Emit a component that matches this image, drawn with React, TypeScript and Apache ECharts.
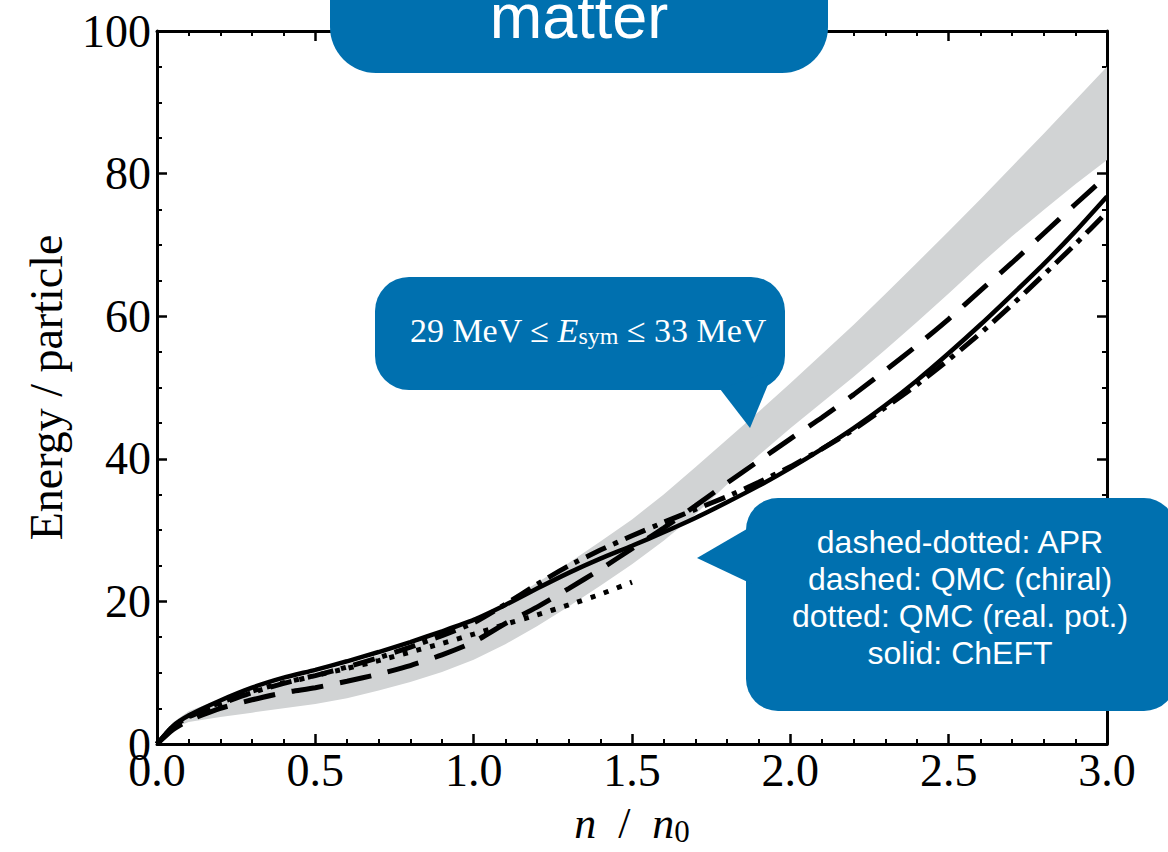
import { useEffect, useRef } from "react";
import * as echarts from "echarts";

// density n/n0 grid
const density = [0, 0.05, 0.1, 0.2, 0.3, 0.4, 0.5, 0.6, 0.7, 0.8, 0.9, 1.0, 1.1, 1.2, 1.3, 1.4, 1.5, 1.6, 1.7, 1.8, 1.9, 2.0, 2.1, 2.2, 2.3, 2.4, 2.5, 2.6, 2.7, 2.8, 2.9, 3.0];
const densityDotted = [0, 0.05, 0.1, 0.2, 0.3, 0.4, 0.5, 0.6, 0.7, 0.8, 0.9, 1.0, 1.1, 1.2, 1.3, 1.4, 1.5];

// symmetry-energy band (29 MeV <= Esym <= 33 MeV)
const bandLower = [0, 2.2, 3.1, 3.8, 4.4, 5.0, 5.6, 6.4, 7.5, 8.7, 10.1, 11.8, 14.0, 16.5, 19.3, 22.2, 25.2, 28.5, 32.2, 36.4, 40.5, 44.3, 47.9, 51.5, 55.3, 59.2, 63.2, 67.3, 71.2, 74.9, 78.5, 81.9];
const bandUpper = [0, 3.0, 4.6, 6.3, 7.7, 8.9, 10.0, 11.2, 12.5, 13.9, 15.5, 17.4, 19.8, 22.6, 25.4, 28.4, 31.5, 35.0, 38.8, 42.7, 46.6, 50.6, 54.7, 58.8, 63.1, 67.5, 71.9, 76.4, 81.0, 85.6, 90.3, 95.0];

// curves
const chEFT = [0, 2.5, 4.0, 6.1, 7.9, 9.3, 10.4, 11.6, 12.9, 14.3, 15.8, 17.4, 19.5, 21.8, 24.0, 26.0, 27.8, 29.7, 31.7, 33.9, 36.2, 38.7, 41.4, 44.3, 47.5, 51.0, 54.8, 58.8, 63.0, 67.3, 71.9, 76.8];
const apr = [0, 2.4, 3.8, 5.6, 7.2, 8.5, 9.6, 10.8, 12.1, 13.6, 15.2, 17.0, 19.6, 22.4, 25.0, 27.2, 29.2, 31.1, 32.9, 34.7, 36.7, 38.9, 41.4, 44.1, 47.2, 50.4, 53.9, 57.6, 61.6, 65.8, 70.1, 74.6];
const qmcChiral = [0, 2.0, 3.3, 5.0, 6.2, 7.2, 7.9, 8.8, 9.8, 11.0, 12.5, 14.3, 16.9, 19.2, 21.8, 24.5, 27.4, 30.3, 33.4, 36.6, 39.7, 42.8, 45.8, 49.0, 52.4, 55.9, 59.6, 63.6, 67.5, 71.6, 75.7, 79.7];
const qmcReal = [0, 2.4, 3.9, 5.8, 7.4, 8.6, 9.6, 10.6, 11.7, 12.9, 14.1, 15.4, 16.8, 18.1, 19.5, 21.0, 22.7];

const legendLines = ["dashed-dotted: APR", "dashed: QMC (chiral)", "dotted: QMC (real. pot.)", "solid: ChEFT"];

const BLUE = "#0070AF";
const SERIF = "'Liberation Serif', 'Times New Roman', serif";
const SANS = "'Liberation Sans', Arial, Helvetica, sans-serif";

function pairs(xs: number[], ys: number[]) {
  return ys.map((y, i) => [xs[i], y]);
}

function axisCommon(extra: any) {
  return {
    type: "value",
    axisLine: { show: true, onZero: false, lineStyle: { color: "#000", width: 3 } },
    axisTick: { show: true, inside: true, length: 10, lineStyle: { color: "#000", width: 2.5 } },
    splitLine: { show: false },
    minorSplitLine: { show: false },
    ...extra,
  };
}

export default function App() {
  const ref = useRef<HTMLDivElement>(null);
  useEffect(() => {
    const chart = echarts.init(ref.current!, null, { renderer: "svg" });
    const labelStyle = { color: "#000", fontFamily: SERIF, fontSize: 46 };
    const minorX = { show: true, splitNumber: 5, length: 5, lineStyle: { color: "#000", width: 2 } };
    const minorY = { show: true, splitNumber: 4, length: 5, lineStyle: { color: "#000", width: 2 } };
    const option: any = {
      animation: false,
      backgroundColor: "#fff",
      textStyle: { fontFamily: SERIF },
      grid: { left: 157, right: 61, top: 31, bottom: 108, containLabel: false },
      xAxis: [
        axisCommon({
          position: "bottom",
          min: 0,
          max: 3,
          interval: 0.5,
          minorTick: minorX,
          axisLabel: { ...labelStyle, margin: 3, formatter: (v: number) => v.toFixed(1) },
          name: "{i|n}{r|  /  }{i|n}{s|0}",
          nameLocation: "middle",
          nameGap: 56,
          nameTextStyle: {
            color: "#000",
            rich: {
              i: { fontFamily: SERIF, fontStyle: "italic", fontSize: 44, color: "#000" },
              r: { fontFamily: SERIF, fontSize: 44, color: "#000" },
              s: { fontFamily: SERIF, fontSize: 31, color: "#000", padding: [16, 0, 0, 0] },
            },
          },
        }),
        axisCommon({
          position: "top",
          min: 0,
          max: 3,
          interval: 0.5,
          minorTick: minorX,
          axisLabel: { show: false },
        }),
      ],
      yAxis: [
        axisCommon({
          position: "left",
          min: 0,
          max: 100,
          interval: 20,
          minorTick: minorY,
          axisLabel: { ...labelStyle, margin: 6 },
          name: "Energy / particle",
          nameLocation: "middle",
          nameGap: 88,
          nameTextStyle: { color: "#000", fontFamily: SERIF, fontSize: 46 },
        }),
        axisCommon({
          position: "right",
          min: 0,
          max: 100,
          interval: 20,
          minorTick: minorY,
          axisLabel: { show: false },
        }),
      ],
      series: [
        {
          type: "custom",
          xAxisIndex: 0,
          yAxisIndex: 0,
          silent: true,
          z: 1,
          data: [[0, 0]],
          renderItem: (_params: any, api: any) => {
            const pts: number[][] = [];
            for (let i = 0; i < density.length; i++) pts.push(api.coord([density[i], bandUpper[i]]));
            for (let i = density.length - 1; i >= 0; i--) pts.push(api.coord([density[i], bandLower[i]]));
            return { type: "polygon", shape: { points: pts }, style: { fill: "#D1D3D4" } };
          },
        },
        {
          name: "ChEFT",
          type: "line",
          data: pairs(density, chEFT),
          symbol: "none",
          smooth: 0.2,
          z: 3,
          lineStyle: { color: "#000", width: 4.5, type: "solid" },
        },
        {
          name: "APR",
          type: "line",
          data: pairs(density, apr),
          symbol: "none",
          smooth: 0.2,
          z: 3,
          lineStyle: { color: "#000", width: 5, type: [22, 8, 5, 8] },
        },
        {
          name: "QMC (chiral)",
          type: "line",
          data: pairs(density, qmcChiral),
          symbol: "none",
          smooth: 0.2,
          z: 3,
          lineStyle: { color: "#000", width: 5, type: [32, 17] },
        },
        {
          name: "QMC (real. pot.)",
          type: "line",
          data: pairs(densityDotted, qmcReal),
          symbol: "none",
          smooth: 0.2,
          z: 3,
          lineStyle: { color: "#000", width: 5, type: [5, 9] },
        },
      ],
      graphic: [
        { type: "rect", z: 100, shape: { x: 330, y: -60, width: 498, height: 133, r: 46 }, style: { fill: BLUE } },
        {
          type: "text",
          z: 101,
          style: {
            text: "matter",
            x: 579,
            y: 16,
            textAlign: "center",
            textVerticalAlign: "middle",
            fill: "#fff",
            font: `63px ${SANS}`,
            shadowColor: "rgba(0,0,0,0.45)",
            shadowBlur: 3,
            shadowOffsetY: 1,
          },
        },
        { type: "rect", z: 100, shape: { x: 375, y: 277, width: 410, height: 113, r: 34 }, style: { fill: BLUE } },
        { type: "polygon", z: 100, shape: { points: [[720, 389], [774, 370], [750, 428]] }, style: { fill: BLUE } },
        {
          type: "text",
          z: 101,
          style: {
            text: "29 MeV ≤ {i|E}{s|sym} ≤ 33 MeV",
            x: 588,
            y: 330,
            textAlign: "center",
            textVerticalAlign: "middle",
            fill: "#fff",
            font: `34px ${SERIF}`,
            rich: {
              i: { fontFamily: SERIF, fontStyle: "italic", fontSize: 34, fill: "#fff" },
              s: { fontFamily: SERIF, fontSize: 24, fill: "#fff", padding: [12, 0, 0, 0] },
            },
          },
        },
        { type: "rect", z: 100, shape: { x: 746, y: 498, width: 430, height: 213, r: 32 }, style: { fill: BLUE } },
        { type: "polygon", z: 100, shape: { points: [[752, 526], [697, 558], [752, 584]] }, style: { fill: BLUE } },
        {
          type: "text",
          z: 101,
          style: {
            text: legendLines.join("\n"),
            x: 960,
            y: 597,
            textAlign: "center",
            textVerticalAlign: "middle",
            lineHeight: 37,
            fill: "#fff",
            font: `32px ${SANS}`,
            shadowColor: "rgba(0,0,0,0.4)",
            shadowBlur: 2,
            shadowOffsetY: 1,
          },
        },
      ],
    };
    chart.setOption(option);
    return () => chart.dispose();
  }, []);
  return <div ref={ref} style={{ position: "fixed", left: 0, top: 0, width: 1168, height: 852 }} />;
}
